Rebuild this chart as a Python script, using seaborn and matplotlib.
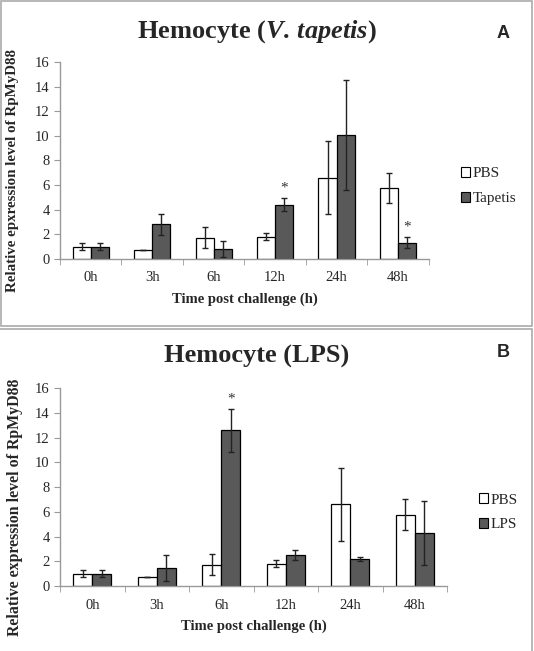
import matplotlib.pyplot as plt
import pandas as pd
import seaborn as sns
from matplotlib.patches import Patch, Rectangle

# ---- data ----
times = ["0h", "3h", "6h", "12h", "24h", "48h"]
pbs_mean = [1.0, 0.72, 1.73, 1.81, 6.6, 5.77]
pbs_err = [0.27, 0.0, 0.86, 0.26, 2.95, 1.24]
tapetis_mean = [1.0, 2.82, 0.84, 4.41, 10.07, 1.33]
tapetis_err = [0.27, 0.87, 0.65, 0.54, 4.43, 0.46]
lps_mean = [1.0, 1.48, 12.57, 2.48, 2.19, 4.26]
lps_err = [0.3, 1.05, 1.75, 0.4, 0.13, 2.58]
tapetis_sig = ["", "", "", "*", "", "*"]
lps_sig = ["", "", "*", "", "", ""]

sns.set_style("ticks")
plt.rcParams["font.family"] = ["Liberation Serif", "DejaVu Serif"]
plt.rcParams["mathtext.fontset"] = "custom"
plt.rcParams["mathtext.rm"] = "Liberation Serif:bold"
plt.rcParams["mathtext.it"] = "Liberation Serif:bold:italic"

PBS_COL = "white"
TRT_COL = "#595959"


def draw_panel(ax, treat_name, treat_mean, treat_err, sig, ylabel, ylab_size, ylab_xy):
    df = pd.DataFrame({
        "time": times * 2,
        "value": pbs_mean + treat_mean,
        "err": pbs_err + treat_err,
        "group": ["PBS"] * 6 + [treat_name] * 6,
    })
    sns.barplot(data=df, x="time", y="value", hue="group", order=times,
                hue_order=["PBS", treat_name], palette=[PBS_COL, TRT_COL],
                width=0.59, errorbar=None, edgecolor="black", linewidth=0.9,
                saturation=1, legend=False, ax=ax)
    for cont, errs in zip(ax.containers, [pbs_err, treat_err]):
        xs = [b.get_x() + b.get_width() / 2 for b in cont]
        ys = [b.get_height() for b in cont]
        ax.errorbar(xs, ys, yerr=errs, fmt="none", ecolor="#222222",
                    elinewidth=1.0, capsize=2.3, capthick=1.0)
    # significance stars over the treatment bars
    trt = ax.containers[1]
    for b, e, s in zip(trt, treat_err, sig):
        if s:
            ax.text(b.get_x() + b.get_width() / 2, b.get_height() + e + 0.3, s,
                    ha="center", va="bottom", fontsize=11, color="#333333")

    ax.set_ylim(0, 16)
    ax.set_yticks(range(0, 17, 2))
    ax.set_xlim(-0.5, 5.5)
    ax.set_xticks([i - 0.5 for i in range(7)], minor=True)
    ax.tick_params(axis="x", which="major", length=0, labelsize=10.5, pad=9)
    ax.tick_params(axis="x", which="minor", length=4, color="#999999")
    ax.tick_params(axis="y", length=4, color="#999999", labelsize=10.5)
    sns.despine(ax=ax)
    for sp in ["left", "bottom"]:
        ax.spines[sp].set_color("#999999")
        ax.spines[sp].set_linewidth(1.0)
    ax.set_xlabel("Time post challenge (h)", fontsize=10.5, fontweight="bold", labelpad=6)
    ax.set_ylabel(ylabel, fontsize=ylab_size, fontweight="bold")
    ax.yaxis.set_label_coords(*ylab_xy)
    handles = [Patch(facecolor=PBS_COL, edgecolor="black", linewidth=0.8, label="PBS"),
               Patch(facecolor=TRT_COL, edgecolor="black", linewidth=0.8, label=treat_name)]
    return handles


fig = plt.figure(figsize=(5.34, 6.51), dpi=100)
fig.patch.set_facecolor("white")

axA = fig.add_axes([0.1124, 0.6022, 0.6906, 0.3026])
hA = draw_panel(axA, "Tapetis", tapetis_mean, tapetis_err, tapetis_sig,
                "Relative epxression level of RpMyD88", 10.8, (-0.112, 0.447))
fig.legend(handles=hA, loc="center left", bbox_to_anchor=(0.851, 0.714),
           frameon=False, fontsize=11, handlelength=0.6, handleheight=0.6,
           handletextpad=0.2, labelspacing=0.75, borderaxespad=0)
fig.text(0.481, 0.951, r"Hemocyte ($\mathit{V.\,tapetis}$)", ha="center",
         va="center", fontsize=19, fontweight="bold")
fig.text(0.942, 0.949, "A", ha="center", va="center", fontsize=13,
         fontweight="bold", family=["Liberation Sans"])

axB = fig.add_axes([0.1124, 0.0998, 0.7248, 0.3042])
hB = draw_panel(axB, "LPS", lps_mean, lps_err, lps_sig,
                "Relative expression level of RpMyD88", 11.4, (-0.095, 0.40))
fig.legend(handles=hB, loc="center left", bbox_to_anchor=(0.885, 0.213),
           frameon=False, fontsize=11, handlelength=0.6, handleheight=0.6,
           handletextpad=0.2, labelspacing=0.75, borderaxespad=0)
fig.text(0.481, 0.452, "Hemocyte (LPS)", ha="center", va="center",
         fontsize=19, fontweight="bold")
fig.text(0.942, 0.458, "B", ha="center", va="center", fontsize=13,
         fontweight="bold", family=["Liberation Sans"])

# panel frames
W, H = 534, 651
fig.patches.append(Rectangle((1 / W, 1 - 326 / H), 531 / W, 325 / H,
                             transform=fig.transFigure, fill=False,
                             edgecolor="#aaaaaa", linewidth=1.2))
fig.patches.append(Rectangle((-0.01, -0.01), 532 / W + 0.01, 1 - 329 / H + 0.01,
                             transform=fig.transFigure, fill=False,
                             edgecolor="#aaaaaa", linewidth=1.2))

fig.savefig("out.png", dpi=100)
